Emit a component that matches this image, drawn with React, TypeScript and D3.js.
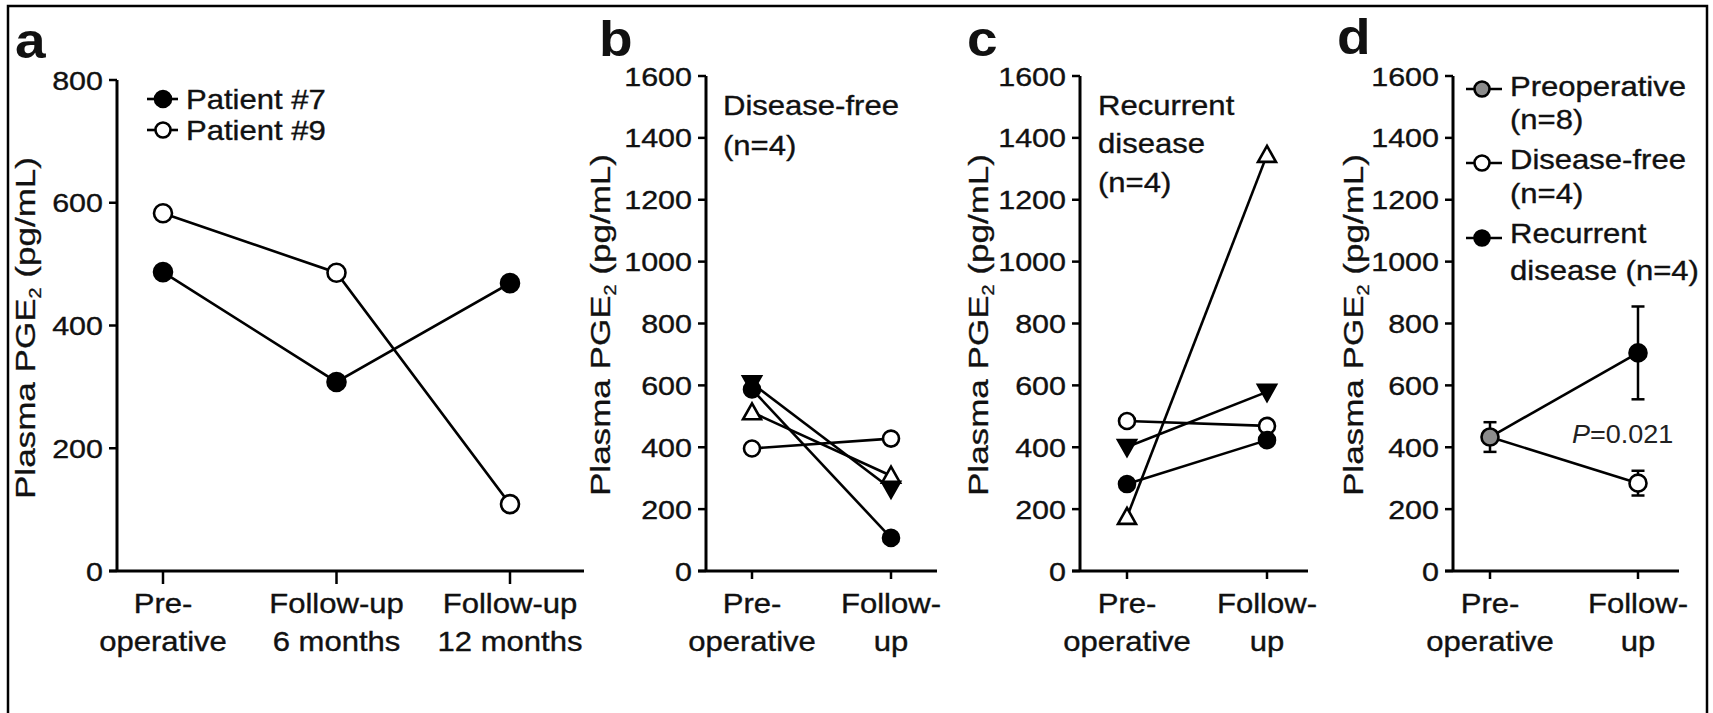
import React from "react";
import * as d3 from "d3";

// ---------- data ----------
const catsA = [["Pre-", "operative"], ["Follow-up", "6 months"], ["Follow-up", "12 months"]];
const catsB = [["Pre-", "operative"], ["Follow-", "up"]];
const ticksA = [0, 200, 400, 600, 800];
const ticksB = [0, 200, 400, 600, 800, 1000, 1200, 1400, 1600];

const patient7 = [487, 308, 469];
const patient9 = [583, 486, 109];

// Disease-free (n=4): pre, follow-up
const dfFilledCircle = [587, 107];
const dfOpenCircle = [396, 428];
const dfOpenTriangle = [513, 308];
const dfFilledDown = [607, 266];

// Recurrent disease (n=4)
const recOpenTriangle = [175, 1345];
const recOpenCircle = [485, 469];
const recFilledDown = [401, 579];
const recFilledCircle = [281, 423];

// Panel d means and SEM
const dPre = { mean: 433, sem: 48 };
const dDiseaseFree = { mean: 284, sem: 40 };
const dRecurrent = { mean: 705, sem: 150 };

const FONT = "'Liberation Sans', Arial, Helvetica, sans-serif";
const SX = 1.15;

type TP = { x: number; y: number; anchor?: string; size?: number; weight?: string | number; sx?: number; fill?: string; children: any };
const T = ({ x, y, anchor = "start", size = 27, weight = "normal", sx = SX, fill = "#111", children }: TP) => (
  <text transform={`translate(${x},${y}) scale(${sx},1)`} textAnchor={anchor} fontSize={size} fontWeight={weight} fill={fill}
    stroke={weight === "normal" ? fill : "none"} strokeWidth={0.35} fontFamily={FONT}>
    {children}
  </text>
);

const Title = ({ x, cy }: { x: number; cy: number }) => (
  <text transform={`translate(${x},${cy}) rotate(-90) scale(1.23,1)`} textAnchor="middle" fontSize={28.5} fontFamily={FONT} fill="#111" stroke="#111" strokeWidth={0.3}>
    Plasma PGE
    <tspan fontSize={16} dy={6}>2</tspan>
    <tspan dy={-6}> (pg/mL)</tspan>
  </text>
);

const SW = 2.6;

const Marker = ({ type, x, y, r = 8, fill }: { type: string; x: number; y: number; r?: number; fill?: string }) => {
  if (type === "fc") return <circle cx={x} cy={y} r={r} fill={fill || "#000"} stroke="#000" strokeWidth={SW} />;
  if (type === "oc") return <circle cx={x} cy={y} r={r} fill="#fff" stroke="#000" strokeWidth={SW} />;
  if (type === "ot")
    return <path d={`M${x},${y - 9} L${x + 9},${y + 7} L${x - 9},${y + 7} Z`} fill="#fff" stroke="#000" strokeWidth={SW} />;
  return <path d={`M${x - 9},${y - 7} L${x + 9},${y - 7} L${x},${y + 9} Z`} fill="#000" stroke="#000" strokeWidth={SW} />;
};

type AxesProps = { axisX: number; xEnd: number; y: d3.ScaleLinear<number, number>; ticks: number[]; x: d3.ScalePoint<string>; cats: string[][]; tickLen: number };
const Axes = ({ axisX, xEnd, y, ticks, x, cats, tickLen }: AxesProps) => {
  const y0 = y(0);
  const top = y(ticks[ticks.length - 1]);
  return (
    <g>
      <line x1={axisX} x2={axisX} y1={top} y2={y0} stroke="#000" strokeWidth={3} />
      <line x1={axisX - 8} x2={xEnd} y1={y0} y2={y0} stroke="#000" strokeWidth={3} />
      {ticks.map((t) => (
        <g key={t}>
          <line x1={axisX - 8} x2={axisX} y1={y(t)} y2={y(t)} stroke="#000" strokeWidth={2.5} />
          <T x={axisX - 14} y={y(t) + 9.5} anchor="end" size={26.5}>{String(t)}</T>
        </g>
      ))}
      {cats.map((c) => {
        const key = c.join(" ");
        const cx = x(key)!;
        return (
          <g key={key}>
            <line x1={cx} x2={cx} y1={y0} y2={y0 + tickLen} stroke="#000" strokeWidth={2.5} />
            <T x={cx} y={613} anchor="middle">{c[0]}</T>
            <T x={cx} y={651} anchor="middle">{c[1]}</T>
          </g>
        );
      })}
    </g>
  );
};

const seriesLine = (x: d3.ScalePoint<string>, y: d3.ScaleLinear<number, number>, cats: string[][], vals: number[]) =>
  d3.line<number>().x((_, i) => x(cats[i].join(" "))!).y((v) => y(v))(vals) || "";

export default function App() {
  const keysA = catsA.map((c) => c.join(" "));
  const keysB = catsB.map((c) => c.join(" "));
  const xA = d3.scalePoint<string>().domain(keysA).range([163, 510]);
  const yA = d3.scaleLinear().domain([0, 800]).range([571, 80]);
  const yB = d3.scaleLinear().domain([0, 1600]).range([571, 76]);
  const xBp = d3.scalePoint<string>().domain(keysB).range([752, 891]);
  const xCp = d3.scalePoint<string>().domain(keysB).range([1127, 1267]);
  const xDp = d3.scalePoint<string>().domain(keysB).range([1490, 1638]);

  const bSeries = [
    { vals: dfOpenCircle, m: "oc" },
    { vals: dfOpenTriangle, m: "ot" },
    { vals: dfFilledDown, m: "fd" },
    { vals: dfFilledCircle, m: "fc" },
  ];
  const cSeries = [
    { vals: recOpenTriangle, m: "ot" },
    { vals: recOpenCircle, m: "oc" },
    { vals: recFilledDown, m: "fd" },
    { vals: recFilledCircle, m: "fc" },
  ];

  const dPts = [
    { stat: dDiseaseFree, cat: 1, m: "oc", fill: "#fff" },
    { stat: dRecurrent, cat: 1, m: "fc", fill: "#000" },
    { stat: dPre, cat: 0, m: "fc", fill: "#8c8c8c" },
  ];

  const ErrBar = ({ cx, mean, sem }: { cx: number; mean: number; sem: number }) => (
    <g stroke="#000" strokeWidth={2.5}>
      <line x1={cx} x2={cx} y1={yB(mean + sem)} y2={yB(mean - sem)} />
      <line x1={cx - 6.5} x2={cx + 6.5} y1={yB(mean + sem)} y2={yB(mean + sem)} />
      <line x1={cx - 6.5} x2={cx + 6.5} y1={yB(mean - sem)} y2={yB(mean - sem)} />
    </g>
  );

  return (
    <svg width={1713} height={713} style={{ position: "absolute", left: 0, top: 0, background: "#fff" }} fontFamily={FONT}>
      <rect x={0} y={0} width={1713} height={713} fill="#fff" />
      <rect x={8} y={6} width={1699} height={720} fill="none" stroke="#000" strokeWidth={2.5} />

      {/* ---------- panel a ---------- */}
      <T x={15} y={58} size={50} weight="bold" sx={1.1}>a</T>
      <Title x={35} cy={328} />
      <Axes axisX={117} xEnd={584} y={yA} ticks={ticksA} x={xA} cats={catsA} tickLen={13} />
      <path d={seriesLine(xA, yA, catsA, patient7)} fill="none" stroke="#000" strokeWidth={SW} />
      <path d={seriesLine(xA, yA, catsA, patient9)} fill="none" stroke="#000" strokeWidth={SW} />
      {patient7.map((v, i) => <Marker key={"p7" + i} type="fc" x={xA(keysA[i])!} y={yA(v)} r={9} />)}
      {patient9.map((v, i) => <Marker key={"p9" + i} type="oc" x={xA(keysA[i])!} y={yA(v)} r={9} />)}
      {/* legend a */}
      <line x1={147} x2={178} y1={99} y2={99} stroke="#000" strokeWidth={SW} />
      <Marker type="fc" x={163} y={99} r={8} />
      <T x={186} y={109}>Patient #7</T>
      <line x1={147} x2={178} y1={130} y2={130} stroke="#000" strokeWidth={SW} />
      <Marker type="oc" x={163} y={130} r={7.5} />
      <T x={186} y={140}>Patient #9</T>

      {/* ---------- panel b ---------- */}
      <T x={599} y={56} size={50} weight="bold" sx={1.1}>b</T>
      <Title x={610} cy={325} />
      <Axes axisX={706} xEnd={937} y={yB} ticks={ticksB} x={xBp} cats={catsB} tickLen={8} />
      {bSeries.map((s, k) => <path key={"bl" + k} d={seriesLine(xBp, yB, catsB, s.vals)} fill="none" stroke="#000" strokeWidth={SW} />)}
      {bSeries.map((s, k) => s.vals.map((v, i) => <Marker key={"bm" + k + i} type={s.m} x={xBp(keysB[i])!} y={yB(v)} />))}
      <T x={723} y={115}>Disease-free</T>
      <T x={723} y={155}>(n=4)</T>

      {/* ---------- panel c ---------- */}
      <T x={967} y={56} size={50} weight="bold" sx={1.1}>c</T>
      <Title x={988} cy={325} />
      <Axes axisX={1080} xEnd={1308} y={yB} ticks={ticksB} x={xCp} cats={catsB} tickLen={8} />
      {cSeries.map((s, k) => <path key={"cl" + k} d={seriesLine(xCp, yB, catsB, s.vals)} fill="none" stroke="#000" strokeWidth={SW} />)}
      {cSeries.map((s, k) => s.vals.map((v, i) => <Marker key={"cm" + k + i} type={s.m} x={xCp(keysB[i])!} y={yB(v)} />))}
      <T x={1098} y={115}>Recurrent</T>
      <T x={1098} y={153}>disease</T>
      <T x={1098} y={192}>(n=4)</T>

      {/* ---------- panel d ---------- */}
      <T x={1337} y={54} size={50} weight="bold" sx={1.1}>d</T>
      <Title x={1363} cy={325} />
      <Axes axisX={1453} xEnd={1679} y={yB} ticks={ticksB} x={xDp} cats={catsB} tickLen={8} />
      <line x1={xDp(keysB[0])!} y1={yB(dPre.mean)} x2={xDp(keysB[1])!} y2={yB(dRecurrent.mean)} stroke="#000" strokeWidth={SW} />
      <line x1={xDp(keysB[0])!} y1={yB(dPre.mean)} x2={xDp(keysB[1])!} y2={yB(dDiseaseFree.mean)} stroke="#000" strokeWidth={SW} />
      {dPts.map((p, k) => <ErrBar key={"de" + k} cx={xDp(keysB[p.cat])!} mean={p.stat.mean} sem={p.stat.sem} />)}
      {dPts.map((p, k) => <Marker key={"dm" + k} type={p.m} x={xDp(keysB[p.cat])!} y={yB(p.stat.mean)} r={8.5} fill={p.fill} />)}
      <text transform={`translate(1572,443) scale(1.08,1)`} fontSize={25} fontFamily={FONT} fill="#222">
        <tspan fontStyle="italic">P</tspan>=0.021
      </text>
      {/* legend d */}
      <line x1={1466} x2={1502} y1={89} y2={89} stroke="#000" strokeWidth={SW} />
      <Marker type="fc" x={1482} y={89} r={7.5} fill="#8c8c8c" />
      <line x1={1466} x2={1502} y1={163} y2={163} stroke="#000" strokeWidth={SW} />
      <Marker type="oc" x={1482} y={163} r={7.5} />
      <line x1={1466} x2={1502} y1={238} y2={238} stroke="#000" strokeWidth={SW} />
      <Marker type="fc" x={1482} y={238} r={7.5} />
      <T x={1510} y={96}>Preoperative</T>
      <T x={1510} y={129}>(n=8)</T>
      <T x={1510} y={169}>Disease-free</T>
      <T x={1510} y={203}>(n=4)</T>
      <T x={1510} y={243}>Recurrent</T>
      <T x={1510} y={280}>disease (n=4)</T>
    </svg>
  );
}
